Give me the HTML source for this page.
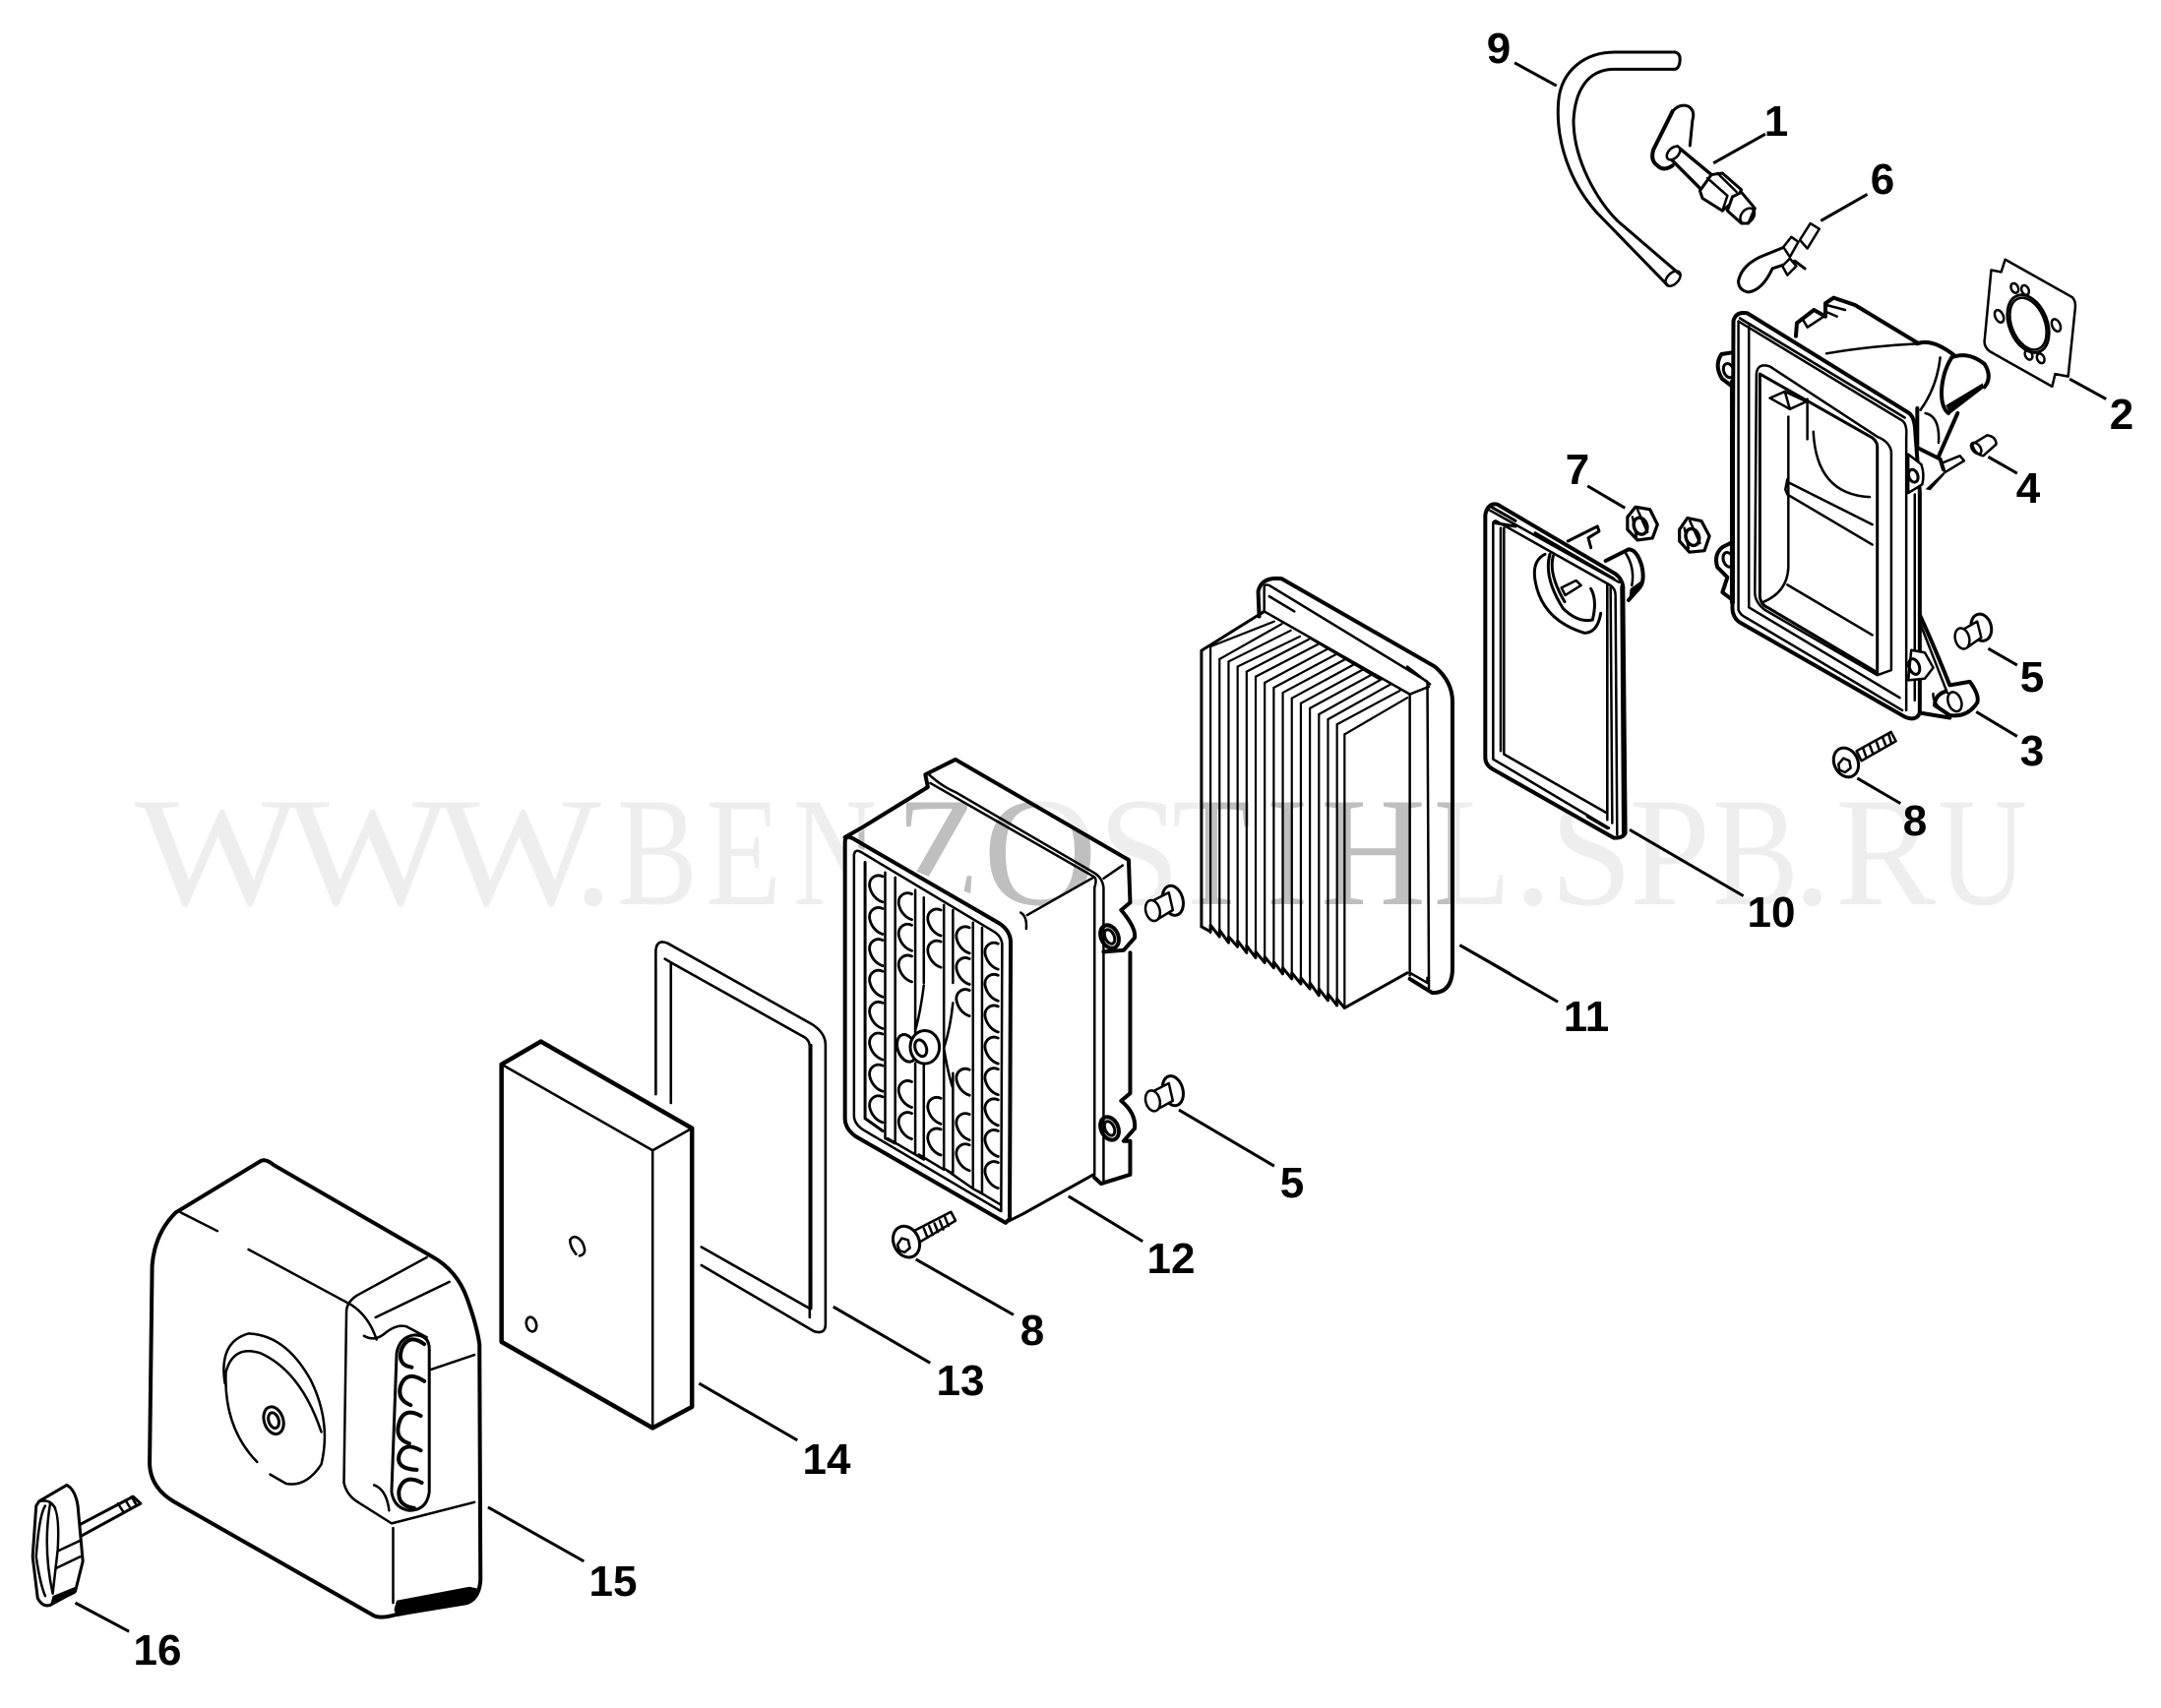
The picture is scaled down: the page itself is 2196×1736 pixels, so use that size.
<!DOCTYPE html>
<html><head><meta charset="utf-8"><style>
html,body{margin:0;padding:0;background:#fff}
svg{display:block}
svg path,svg line,svg ellipse,svg circle,svg polygon,svg polyline,svg rect{vector-effect:non-scaling-stroke}
.t{font-family:"Liberation Sans",sans-serif;font-weight:bold;font-size:44px;text-anchor:middle;fill:#000}
.wm{font-family:"Liberation Serif",serif;font-size:158px}
.p{fill:none;stroke:#000;stroke-width:2.5;stroke-linejoin:round;stroke-linecap:round}
.k{fill:none;stroke:#000;stroke-width:4;stroke-linejoin:round;stroke-linecap:round}
.w{fill:#fff;stroke:#000;stroke-width:2.5;stroke-linejoin:round}
.wk{fill:#fff;stroke:#000;stroke-width:4;stroke-linejoin:round}
.l{fill:none;stroke:#000;stroke-width:3}
</style></head><body>
<svg xmlns="http://www.w3.org/2000/svg" width="2196" height="1736" viewBox="0 0 2196 1736">
<defs>
<path id="h" class="p" style="stroke-width:2.8" d="M13,-25 C0,-31 -15,-22 -13,-5 C-10,10 0,22 13,26"/>
<clipPath id="dk">
<path d="M858.7,856 L943,800 L940.8,787 L971,772 L1112,853 L1112,892 L1040,930 L1039,930 Z"/>
<path d="M1220,662 L1290,625 L1279,601 L1283,586 L1310,590 L1476,686 L1476,1010 L1220,1010 Z"/>
</clipPath>
<text id="wmt" class="wm" y="919"><tspan x="137" textLength="168" lengthAdjust="spacingAndGlyphs">W</tspan><tspan x="290" textLength="168" lengthAdjust="spacingAndGlyphs">W</tspan><tspan x="443" textLength="168" lengthAdjust="spacingAndGlyphs">W</tspan><tspan x="583">.</tspan><tspan x="627" textLength="82" lengthAdjust="spacingAndGlyphs">B</tspan><tspan x="717" textLength="77" lengthAdjust="spacingAndGlyphs">E</tspan><tspan x="806" textLength="85" lengthAdjust="spacingAndGlyphs">N</tspan><tspan x="910" textLength="85" lengthAdjust="spacingAndGlyphs">Z</tspan><tspan x="999" textLength="116" lengthAdjust="spacingAndGlyphs">O</tspan><tspan x="1116" textLength="83" lengthAdjust="spacingAndGlyphs">S</tspan><tspan x="1191" textLength="80" lengthAdjust="spacingAndGlyphs">T</tspan><tspan x="1287" textLength="42" lengthAdjust="spacingAndGlyphs">I</tspan><tspan x="1342" textLength="107" lengthAdjust="spacingAndGlyphs">H</tspan><tspan x="1457" textLength="78" lengthAdjust="spacingAndGlyphs">L</tspan><tspan x="1538">.</tspan><tspan x="1575" textLength="84" lengthAdjust="spacingAndGlyphs">S</tspan><tspan x="1656" textLength="82" lengthAdjust="spacingAndGlyphs">P</tspan><tspan x="1740" textLength="88" lengthAdjust="spacingAndGlyphs">B</tspan><tspan x="1822">.</tspan><tspan x="1865" textLength="102" lengthAdjust="spacingAndGlyphs">R</tspan><tspan x="1969" textLength="91" lengthAdjust="spacingAndGlyphs">U</tspan></text>
</defs>
<rect width="2196" height="1736" fill="#fff"/>

<!-- watermark -->
<use href="#wmt" fill="#eeeeee"/>
<g transform="translate(800,550) scale(.5102)">
<path fill="#fff" d="M115,600 L280,490 L275,465 L335,435 L685,635 L685,1265 L625,1282 L440,1358 L135,1185 L115,1150Z"/>
<path fill="#fff" d="M825,220 L940,150 L938,100 L985,75 L1290,250 L1325,320 L1325,850 L1285,900 L1240,870 L1110,930 L825,770Z"/>
</g>
<g clip-path="url(#dk)"><use href="#wmt" fill="#bfbfbf"/></g>

<!-- GROUP: top right (zoom 1 coordinates) -->
<g transform="translate(1400,0) scale(.5077,.5102)">
<!-- 9 hose -->
<path class="k" style="stroke-width:3" d="M595,104 L475,104 C415,104 368,140 362,200 C355,280 385,365 440,425 L580,568"/>
<path class="k" style="stroke-width:3" d="M595,138 L470,138 C420,140 395,180 392,240 C392,320 440,400 480,440 L603,545"/>
<path class="k" style="stroke-width:3" d="M595,104 Q606,106 605,120 Q604,136 595,138"/>
<ellipse class="p" cx="591" cy="555" rx="11" ry="18" transform="rotate(45 591 555)"/>
<line class="l" x1="274" y1="125" x2="358" y2="171"/>
<!-- 1 knob -->
<path class="k" style="stroke-width:3" d="M590,222 Q605,205 622,212 Q636,220 630,240 L625,290"/>
<path class="k" d="M590,222 L552,298 Q545,320 560,330 Q572,342 590,330"/>
<path class="k" style="stroke-width:3.4" d="M600,292 L668,348 M582,312 L648,378"/>
<ellipse class="w" cx="592" cy="305" rx="10" ry="16" transform="rotate(45 592 305)"/>
<path class="wk" style="stroke-width:3" d="M668,348 L690,345 L728,378 L718,396 L690,420 L650,395 L645,380Z"/>
<path class="p" d="M660,355 L700,390 L690,420 M680,345 L718,382"/>
<path class="wk" style="stroke-width:3" d="M710,392 L728,383 L755,415 L742,445 L728,445 L700,420Z"/>
<ellipse class="p" cx="740" cy="430" rx="12" ry="17" transform="rotate(40 740 430)"/>
<line class="l" x1="672" y1="325" x2="776" y2="267"/>
<!-- 6 clip -->
<path class="k" style="stroke-width:3" d="M722,560 Q728,530 765,512 L812,493"/>
<path class="k" style="stroke-width:3" d="M722,560 Q722,578 742,582 Q770,578 790,535 L835,520 L855,535"/>
<path class="w" d="M812,492 L828,472 L842,482 L825,512Z"/>
<path class="w" d="M845,478 L866,445 L884,456 L860,495Z"/>
<path class="w" d="M810,530 L825,515 L838,530 L820,548Z"/>
<line class="l" x1="887" y1="440" x2="980" y2="387"/>
<!-- 2 gasket -->
<path class="p" d="M1228,538 L1248,542 L1256,517 L1390,592 Q1398,600 1396,615 L1382,750 L1356,745 L1350,770 L1225,700 Q1212,690 1215,675Z"/>
<ellipse class="p" cx="1302" cy="645" rx="38" ry="60" transform="rotate(-22 1302 645)" style="stroke-width:2.8"/>
<ellipse class="p" cx="1302" cy="645" rx="33" ry="54" transform="rotate(-22 1302 645)"/>
<ellipse class="p" cx="1275" cy="574" rx="7" ry="10" transform="rotate(-25 1275 574)"/>
<ellipse class="p" cx="1296" cy="578" rx="7" ry="10" transform="rotate(-25 1296 578)"/>
<ellipse class="p" cx="1244" cy="630" rx="8" ry="13" transform="rotate(-25 1244 630)"/>
<ellipse class="p" cx="1358" cy="648" rx="8" ry="13" transform="rotate(-25 1358 648)"/>
<ellipse class="p" cx="1303" cy="707" rx="7" ry="10" transform="rotate(-25 1303 707)"/>
<ellipse class="p" cx="1327" cy="714" rx="7" ry="10" transform="rotate(-25 1327 714)"/>
<line class="l" x1="1385" y1="755" x2="1458" y2="795"/>
<!-- lower-left ear -->
<path class="k" d="M710,1080 L690,1090 Q672,1105 680,1130 L700,1150 L690,1180 L710,1195"/>
<ellipse class="p" cx="702" cy="1115" rx="10" ry="15" transform="rotate(-20 702 1115)" style="stroke-width:3"/>
</g>

<!-- housing back, top (zoom 8 coordinates) -->
<g transform="translate(1700,280) scale(.3333)">
<path class="k" d="M375,185 L378,145 L395,132 L430,105 L465,125 L465,85 L490,68 L555,90 L745,205"/>
<path class="p" d="M395,132 L410,158 L460,125 M468,90 L525,105 M465,110 L500,125"/>
<path class="p" d="M468,238 Q600,215 745,208"/>
<path class="k" d="M745,208 Q790,190 860,245"/>
<path class="p" d="M815,250 Q805,340 755,410 M770,420 Q815,430 810,510"/>
<path class="k" d="M850,250 Q900,230 950,270 Q975,310 950,340"/>
<path class="k" d="M850,250 Q825,290 820,340 Q815,400 840,420"/>
<path d="M832,396 L945,328 L945,345 L845,422Z" fill="#000"/>
<path class="k" d="M868,420 L810,552"/>
<path class="k" d="M745,405 L745,525 L815,560 L825,592"/>
<path class="p" d="M825,570 L875,550 L888,565 L830,600"/>
<path d="M770,652 L825,600 L830,605 L785,655Z" fill="#000"/>
<path class="k" d="M180,235 L148,240 Q125,275 150,315 L190,345"/>
<ellipse class="p" style="stroke-width:3" cx="170" cy="290" rx="15" ry="22" transform="rotate(-20 170 290)"/>
</g>

<g transform="translate(1400,0) scale(.5077,.5102)">
<!-- frame -->
<path class="wk" d="M712,640 Q716,620 740,624 L1062,822 Q1075,830 1076,860 L1085,980 L1085,1420 Q1078,1438 1055,1428 L725,1240 Q710,1230 710,1210Z"/>
<path class="k" style="stroke-width:5" d="M710,760 L710,1200"/>
<path class="p" d="M722,640 L1050,838 Q1060,845 1058,870 L1058,1415 M743,650 L743,1210 L1045,1390 M722,640 L722,1215 Q725,1225 740,1232 L1050,1415"/>
<path class="k" style="stroke-width:2.6" d="M725,634 L1055,832"/>
<path class="p" d="M1075,985 L1075,1395"/>
<!-- window -->
<path class="p" d="M758,745 Q760,722 785,730 L1000,870 Q1025,880 1028,900 L1028,1335 L1000,1345 L775,1215 Q755,1200 755,1180Z"/>
<path class="k" style="stroke-width:3" d="M765,745 L990,872 Q1000,880 1000,890 L1000,1340 M765,745 L765,1190 Q768,1205 780,1210 L1000,1340"/>
<path class="p" d="M785,793 L815,780 L858,800 L825,815Z M815,780 L825,815"/>
<path class="p" d="M860,795 L860,875 M872,860 Q878,985 985,990 M822,830 L822,1130 Q820,1180 770,1200 M820,960 L990,1045 M820,985 L990,1085 M820,1165 L990,1265 M820,955 L816,975 L820,985"/>
<!-- bottom ears -->
<path class="k" d="M1085,1225 Q1115,1290 1145,1365 L1185,1358 Q1205,1385 1200,1400 Q1180,1430 1145,1425 L1115,1405 Q1115,1385 1135,1378 M1085,1420 L1145,1430"/>
<ellipse class="w" cx="1155" cy="1398" rx="13" ry="20" transform="rotate(-20 1155 1398)"/>
<path class="p" d="M1112,1382 Q1110,1405 1145,1425 M1140,1380 L1085,1240"/>
<path class="w" d="M1068,1295 L1095,1300 L1112,1330 L1095,1352 L1062,1355Z"/>
<ellipse class="p" cx="1074" cy="1328" rx="10" ry="16" transform="rotate(-20 1074 1328)" style="stroke-width:3"/>
<path class="w" d="M1062,905 L1088,925 Q1095,945 1090,965 L1062,982Z"/>
<ellipse class="p" cx="1072" cy="948" rx="9" ry="13" transform="rotate(-20 1072 948)" style="stroke-width:3"/>
<!-- 4 -->
<path class="w" d="M1190,885 L1220,867 Q1238,870 1238,885 L1212,908 Q1195,905 1190,885Z"/>
<ellipse class="p" cx="1198" cy="893" rx="8" ry="13" transform="rotate(-40 1198 893)"/>
<line class="l" x1="1222" y1="910" x2="1280" y2="943"/>
<!-- 7 nuts -->
<polygon class="wk" style="stroke-width:3.2" points="500,1030 516,1010 545,1015 560,1045 550,1072 520,1076 500,1055"/>
<ellipse class="p" style="stroke-width:3.4" cx="526" cy="1048" rx="13" ry="17" transform="rotate(-20 526 1048)"/>
<path class="p" d="M520,1015 L540,1060 M510,1030 L518,1070"/>
<polygon class="wk" style="stroke-width:3.2" points="604,1055 620,1032 648,1038 664,1068 654,1097 624,1100 604,1078"/>
<ellipse class="p" style="stroke-width:3.4" cx="630" cy="1070" rx="13" ry="17" transform="rotate(-20 630 1070)"/>
<path class="p" d="M625,1038 L645,1082 M614,1052 L622,1092"/>
<line class="l" x1="420" y1="968" x2="495" y2="1012"/>
<!-- 5 top -->
<ellipse class="wk" style="stroke-width:3" cx="1208" cy="1250" rx="20" ry="27" transform="rotate(-15 1208 1250)"/>
<path class="w" d="M1170,1255 L1200,1238 L1208,1270 L1180,1290Z"/>
<ellipse class="w" cx="1170" cy="1272" rx="14" ry="21" transform="rotate(-15 1170 1272)"/>
<line class="l" x1="1222" y1="1292" x2="1280" y2="1325"/>
<line class="l" x1="1198" y1="1418" x2="1280" y2="1467"/>
</g>

<!-- GROUP 10 + screw 8 (zoom 7 coordinates) -->
<g transform="translate(1460,490) scale(.3333)">
<path class="k" style="stroke-width:3" d="M400,180 L490,135 L495,150 L462,170 L470,200"/>
<path class="k" d="M515,240 L585,205 Q610,205 625,255 Q635,300 620,320 L585,360"/>
<path class="p" d="M575,215 Q605,260 595,315"/>
<path d="M590,325 L625,300 L620,330 L585,365Z" fill="#000"/>
<path class="wk" d="M148,100 Q155,62 185,68 L545,280 Q565,295 568,320 L575,1070 Q570,1085 540,1085 L170,875 Q148,862 148,840Z"/>
<path class="p" d="M172,125 Q172,120 180,118 L530,315 Q545,325 545,345 L550,1075 M172,125 L172,845 L525,1055 M205,140 L205,830 L520,1010 L520,310"/>
<path class="p" d="M160,85 L555,305 M195,140 L195,820 M520,320 L520,1030 M530,320 L535,1040"/>
<path class="k" style="stroke-width:3" d="M165,75 L240,118 M300,155 L540,295 M180,125 L240,135 M460,1020 L520,1055"/>
<path class="k" d="M565,320 L570,1075"/>
<path class="p" style="stroke-width:3" d="M330,220 Q290,240 300,300 Q320,420 450,460 Q490,460 500,400 M345,220 Q325,290 385,385 Q430,430 475,420 M355,225 Q340,280 390,365 M470,325 Q490,360 475,420"/>
<path class="w" d="M380,322 L425,300 L440,315 L392,345Z"/>
<!-- 8 screw -->
<path class="w" d="M1280,820 L1385,762 L1400,790 L1295,850Z"/>
<path class="p" d="M1300,812 L1310,840 M1320,802 L1330,828 M1340,790 L1350,818 M1360,780 L1370,806 M1378,770 L1386,796"/>
<ellipse class="wk" style="stroke-width:3" cx="1248" cy="855" rx="36" ry="46" transform="rotate(-25 1248 855)"/>
<polygon class="p" points="1225,860 1240,842 1258,850 1262,872 1245,885 1228,878"/>
<line class="l" x1="1282" y1="903" x2="1414" y2="980"/>
<line class="l" x1="588" y1="1060" x2="935" y2="1262"/>
<line class="l" x1="70" y1="1412" x2="225" y2="1500"/>
</g>

<!-- GROUP box & filter (zoom 2 coordinates) -->
<g transform="translate(800,550) scale(.5102)">
<!-- filter -->
<path class="k" d="M940,150 L938,100 Q945,70 985,75 L1290,250 Q1325,280 1325,320 L1325,850 Q1325,900 1285,900 L1240,872"/>
<path class="p" d="M950,92 Q950,85 960,88 L1275,280 L1278,890 M950,92 L950,140 L1240,305 L1240,865 M960,110 L1010,140 M1045,195 L1180,275 M1235,250 L1280,285 M1240,305 L1278,290 M1240,860 L1275,880 L1275,870"/>
<path class="k" style="stroke-width:3" d="M950,140 L825,218 L825,768"/>
<path class="p" style="stroke-width:2.2" d="M843,210 L970,160 M861,235 L985,165 M879,240 L1003,178 M897,250 L1021,190 M915,260 L1040,195 M933,270 L1058,205 M951,282 L1076,215 M969,292 L1094,225 M987,302 L1112,235 M1005,313 L1130,245 M1023,323 L1148,255 M1041,333 L1166,265 M1059,345 L1184,275 M1077,355 L1202,285 M1095,365 L1220,298 M1110,385 L1235,312"/>
<path class="p" style="stroke-width:2.2" d="M843,210 L843,780 M861,235 L861,788 M879,240 L879,800 M897,250 L897,808 M915,260 L915,820 M933,270 L933,830 M951,282 L951,840 M969,292 L969,850 M987,302 L987,862 M1005,313 L1005,872 M1023,323 L1023,882 M1041,333 L1041,892 M1059,345 L1059,905 M1077,355 L1077,915 M1095,365 L1095,925 M1110,385 L1110,930"/>
<path class="k" style="stroke-width:3" d="M825,768 L843,778 L843,765 L861,788 L861,775 L879,800 L879,788 L897,808 L897,796 L915,820 L915,806 L933,830 L933,818 L951,840 L951,828 L969,850 L969,838 L987,862 L987,850 L1005,872 L1005,860 L1023,882 L1023,870 L1041,892 L1041,880 L1059,905 L1059,892 L1077,915 L1077,902 L1095,925 L1095,912 L1110,930 L1235,860"/>
<!-- 5 -->
<ellipse class="wk" style="stroke-width:3" cx="768" cy="716" rx="20" ry="30" transform="rotate(-15 768 716)"/>
<path class="w" d="M725,718 L760,700 L768,735 L735,755Z"/>
<ellipse class="w" cx="728" cy="736" rx="14" ry="21" transform="rotate(-15 728 736)"/>
<ellipse class="wk" style="stroke-width:3" cx="768" cy="1095" rx="20" ry="30" transform="rotate(-15 768 1095)"/>
<path class="w" d="M725,1098 L760,1080 L768,1115 L735,1133Z"/>
<ellipse class="w" cx="728" cy="1115" rx="14" ry="21" transform="rotate(-15 728 1115)"/>
<line class="l" x1="780" y1="1133" x2="970" y2="1245"/>
<line class="l" x1="1340" y1="805" x2="1535" y2="918"/>
<line class="l" x1="560" y1="1305" x2="708" y2="1395"/>
<!-- box -->
<path class="k" d="M115,590 L150,570 L280,490 L275,465 L335,435 L680,635 L683,720 L665,735 Q695,770 692,790 L670,815 L630,818"/>
<path class="k" d="M683,820 L683,1100 L665,1115 Q695,1140 692,1170 L670,1195 L683,1195 L683,1262 L625,1280 L612,1268"/>
<path class="p" d="M282,465 Q310,490 335,500 L610,660 Q628,670 630,690 L630,1280 M285,482 L610,668 Q618,672 612,690 L612,1262 M630,672 L668,646"/>
<path class="p" d="M478,745 L610,670 M465,740 Q478,748 476,772"/>
<path class="k" style="stroke-width:3" d="M440,1355 L470,1340 L610,1262"/>
<path class="k" d="M115,600 Q115,585 130,592 L420,760 Q445,775 445,800 L443,1350 L435,1358 L135,1185 Q115,1170 115,1150Z"/>
<path class="p" d="M133,625 Q135,612 148,620 L415,780 Q428,790 428,805 L426,1335 L150,1172 Q133,1160 133,1145Z"/>
<path class="k" style="stroke-width:3" d="M155,640 L155,1150 L190,1175"/>
<path class="p" d="M195,660 L195,1190 L215,1200 L215,670 M255,695 L255,985 M255,1040 L255,1222 L272,1232 L272,1040 M272,710 L272,880 M312,725 L312,1250 L330,1260 L330,1060 M330,735 L330,880 M370,760 L370,1290 L388,1300 L388,770 M200,1190 L255,1222 M262,1222 L312,1252 M320,1255 L370,1290 M380,1295 L425,1322"/>
<g>
<use href="#h" x="177" y="693"/><use href="#h" x="177" y="757"/><use href="#h" x="177" y="820"/><use href="#h" x="177" y="882"/><use href="#h" x="177" y="945"/><use href="#h" x="177" y="1007"/><use href="#h" x="177" y="1070"/><use href="#h" x="177" y="1132"/>
<use href="#h" x="235" y="728"/><use href="#h" x="235" y="790"/><use href="#h" x="235" y="852"/><use href="#h" x="235" y="1102"/><use href="#h" x="235" y="1165"/>
<use href="#h" x="293" y="760"/><use href="#h" x="293" y="823"/><use href="#h" x="293" y="1135"/><use href="#h" x="293" y="1197"/>
<use href="#h" x="350" y="795"/><use href="#h" x="350" y="857"/><use href="#h" x="350" y="920"/><use href="#h" x="350" y="1078"/><use href="#h" x="350" y="1167"/><use href="#h" x="350" y="1228"/>
<use href="#h" x="407" y="827"/><use href="#h" x="407" y="890"/><use href="#h" x="407" y="952"/><use href="#h" x="407" y="1015"/><use href="#h" x="407" y="1077"/><use href="#h" x="407" y="1138"/><use href="#h" x="407" y="1200"/><use href="#h" x="407" y="1263"/>
</g>
<path class="p" d="M272,885 Q265,940 255,975 M330,920 Q325,970 312,1010 Q320,1060 330,1090"/>
<ellipse class="w" cx="238" cy="1010" rx="18" ry="28" transform="rotate(-20 238 1010)" style="stroke-width:3"/>
<ellipse class="wk" style="stroke-width:3" cx="274" cy="1008" rx="29" ry="33"/>
<ellipse class="p" cx="266" cy="1010" rx="11" ry="17" transform="rotate(-20 266 1010)" style="stroke-width:3"/>
<!-- ears -->
<ellipse class="p" cx="642" cy="788" rx="17" ry="24" transform="rotate(-25 642 788)" style="stroke-width:4"/>
<ellipse class="p" cx="642" cy="788" rx="9" ry="15" transform="rotate(-25 642 788)" style="stroke-width:3"/>
<ellipse class="p" cx="642" cy="1170" rx="17" ry="24" transform="rotate(-25 642 1170)" style="stroke-width:4"/>
<ellipse class="p" cx="642" cy="1170" rx="9" ry="15" transform="rotate(-25 642 1170)" style="stroke-width:3"/>
</g>

<!-- GROUP foam, gasket, screw (zoom 6 coordinates) -->
<g transform="translate(480,930) scale(.3571)">
<path class="p" style="stroke-width:2.6" d="M522,510 L522,100 Q525,68 555,80 L965,310 Q1005,335 1005,370 L1005,1165 Q1005,1195 972,1185 L652,997"/>
<path class="p" style="stroke-width:2.6" d="M652,945 L960,1120 M960,375 Q960,355 940,345 L565,135 L565,535 M548,125 L565,135 M960,375 L960,1145 M964,370 L964,1120"/>
<path fill="#fff" class="wk" style="stroke-width:4.5" d="M83,425 L195,360 L625,607 L625,1400 L513,1460 L83,1215Z"/>
<path class="p" d="M83,425 L513,670 L625,607 M513,670 L513,1460"/>
<path class="p" style="stroke-width:2.6" d="M295,965 Q278,945 278,925 Q290,905 312,930 Q330,965 305,970"/>
<ellipse class="p" style="stroke-width:2.6" cx="168" cy="1165" rx="14" ry="21" transform="rotate(-15 168 1165)"/>
<!-- screw -->
<path class="w" d="M1255,900 L1362,845 L1375,870 L1275,930Z"/>
<path class="p" d="M1285,892 L1295,918 M1300,885 L1310,910 M1315,878 L1325,902 M1330,870 L1340,895 M1345,860 L1355,885"/>
<ellipse class="wk" style="stroke-width:3" cx="1235" cy="930" rx="36" ry="46" transform="rotate(-25 1235 930)"/>
<polygon class="p" points="1210,938 1222,920 1240,925 1245,948 1230,960 1215,955"/>
<line class="l" x1="1262" y1="980" x2="1540" y2="1138"/>
<line class="l" x1="1027" y1="1115" x2="1303" y2="1275"/>
<line class="l" x1="645" y1="1333" x2="925" y2="1495"/>
</g>

<!-- GROUP cover + knob (zoom 3 coordinates) -->
<g transform="translate(0,1000) scale(.5102,.4695)">
<path class="k" d="M520,383 L350,495 Q308,540 303,610 L298,1040 Q300,1090 345,1120 L745,1368 Q760,1375 790,1365 L930,1340 Q955,1330 957,1290 L955,780 Q950,740 930,680 Q910,620 860,590 L545,392 Q530,378 520,383Z"/>
<path class="p" d="M360,495 L433,535 M495,575 L700,695 Q735,720 750,770 M850,592 L710,675 Q690,690 690,710 L685,1080 Q690,1105 710,1120 L780,1168 L945,1122 M895,645 L748,722 M725,762 Q745,775 765,758 Q790,735 810,742 L850,765 M858,835 L945,803 M745,1085 Q770,1095 775,1140 M783,1178 L783,1340"/>
<path class="p" style="stroke-width:3" d="M790,800 Q795,765 825,760 Q855,760 855,790 L855,1100 Q850,1140 815,1140 Q785,1135 780,1100 Z"/>
<path class="k" d="M845,780 Q815,755 800,790 Q790,825 820,830"/>
<path class="k" d="M845,860 Q810,835 798,870 Q790,900 818,912"/>
<path class="k" d="M838,935 Q805,915 795,950 Q785,985 815,995"/>
<path class="k" d="M838,1010 Q805,990 795,1020 Q788,1050 830,1052"/>
<path class="k" d="M840,1080 Q805,1060 795,1095 Q790,1130 825,1135"/>
<path class="p" d="M448,865 Q435,775 495,757 Q570,760 620,860 Q660,950 640,1040 Q610,1090 570,1082 L538,1062 M512,1035 Q445,960 450,840 Q465,780 520,800 Q600,840 640,970"/>
<ellipse class="p" style="stroke-width:3" cx="545" cy="945" rx="19" ry="30" transform="rotate(-15 545 945)"/>
<ellipse class="p" style="stroke-width:3" cx="545" cy="945" rx="10" ry="17" transform="rotate(-15 545 945)"/>
<path d="M790,1335 L935,1305 L955,1310 L945,1335 L790,1370 L785,1355Z" fill="#000"/>
<!-- knob 16 -->
<path class="p" style="stroke-width:3" d="M160,1170 L265,1110 L280,1125 L162,1195"/>
<path class="p" d="M235,1125 L245,1142 M250,1118 L258,1132 M262,1110 L270,1125"/>
<path class="wk" style="stroke-width:3" d="M78,1120 L133,1085 Q150,1095 155,1130 L165,1250 L150,1315 L100,1345 Q85,1350 75,1330 L65,1240 L72,1130Z"/>
<path class="p" d="M100,1125 Q120,1130 115,1225 L105,1320 Q85,1220 100,1125 M90,1130 Q78,1150 72,1240 Q80,1300 90,1325 M80,1120 Q100,1115 110,1135 M115,1228 L160,1205 M112,1265 L160,1240"/>
<path d="M105,1325 L150,1305 L150,1320 L100,1345Z" fill="#000"/>
<line class="l" x1="150" y1="1340" x2="257" y2="1402"/>
<line class="l" x1="972" y1="1133" x2="1163" y2="1250"/>
</g>

<!-- labels -->
<g>
<text class="t" x="1523" y="64">9</text>
<text class="t" x="1805" y="138">1</text>
<text class="t" x="1913" y="197">6</text>
<text class="t" x="2156" y="436">2</text>
<text class="t" x="2061" y="511">4</text>
<text class="t" x="1603" y="492">7</text>
<text class="t" x="2065" y="703">5</text>
<text class="t" x="2065" y="778">3</text>
<text class="t" x="1946" y="849">8</text>
<text class="t" x="1800" y="942">10</text>
<text class="t" x="1612" y="1048">11</text>
<text class="t" x="1313" y="1217">5</text>
<text class="t" x="1190" y="1294">12</text>
<text class="t" x="1049" y="1367">8</text>
<text class="t" x="976" y="1418">13</text>
<text class="t" x="840" y="1498">14</text>
<text class="t" x="623" y="1622">15</text>
<text class="t" x="160" y="1692">16</text>
</g>
</svg>
</body></html>
